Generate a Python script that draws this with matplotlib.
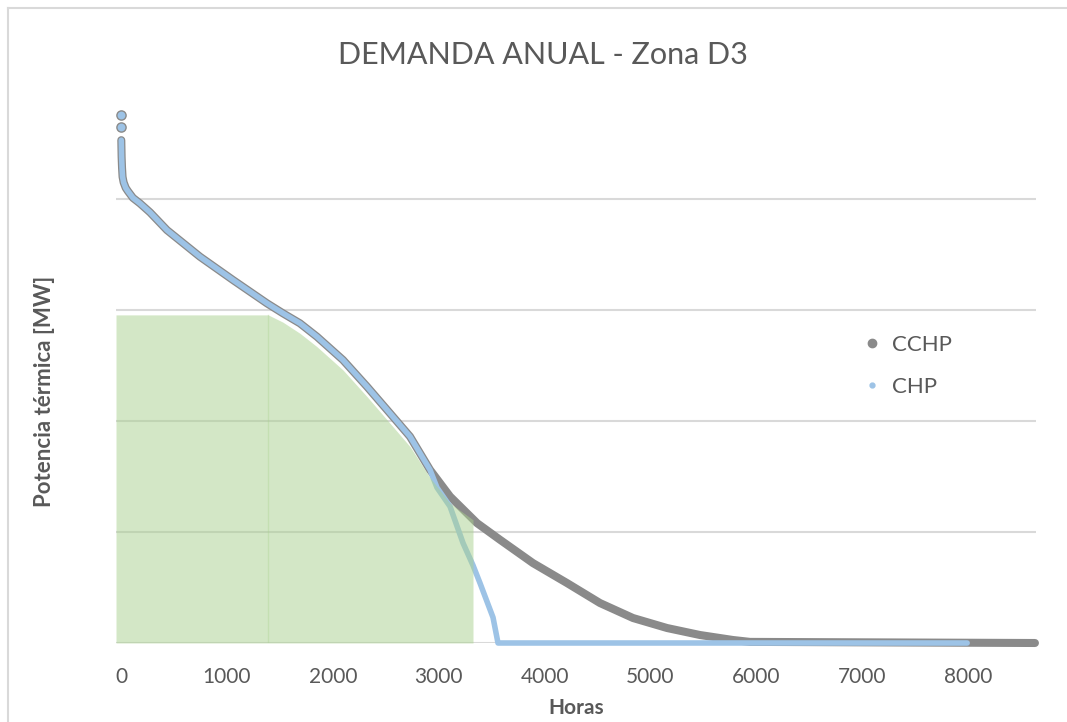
import matplotlib.pyplot as plt
from matplotlib.lines import Line2D

plt.rcParams['font.family'] = ['Lato', 'DejaVu Sans']

# curva monótona de demanda, horas vs potencia (MW)
pico_h = [0, 1]
pico_mw = [23.8, 23.25]

cchp_h = [3, 6, 10, 15, 25, 45, 66, 113, 180, 274, 434, 746, 1058, 1379, 1530, 1690,
          1850, 2096, 2323, 2540, 2729, 2918, 3107, 3362, 3579, 3890, 4212, 4523,
          4835, 5156, 5467, 5779, 5940, 8630]
cchp_mw = [22.65, 21.9, 21.4, 21.0, 20.75, 20.5, 20.35, 20.05, 19.8, 19.4, 18.6, 17.4,
           16.35, 15.3, 14.85, 14.4, 13.8, 12.75, 11.55, 10.35, 9.3, 7.8, 6.6, 5.4,
           4.65, 3.6, 2.7, 1.8, 1.125, 0.675, 0.36, 0.135, 0.05, 0.0]

chp_h = [3, 6, 10, 15, 25, 45, 66, 113, 180, 274, 434, 746, 1058, 1379, 1530, 1690,
         1850, 2096, 2323, 2540, 2729, 2918, 2984, 3107, 3230, 3324, 3390, 3513, 3560,
         7990]
chp_mw = [22.65, 21.9, 21.4, 21.0, 20.75, 20.5, 20.35, 20.05, 19.8, 19.4, 18.6, 17.4,
          16.35, 15.3, 14.85, 14.4, 13.8, 12.75, 11.55, 10.35, 9.3, 7.8, 7.0, 6.15,
          4.5, 3.5, 2.7, 1.15, 0.0, 0.0]

# potencia cubierta (área verde)
cub_h = [-47, 1390, 1530, 1690, 1850, 2096, 2323, 2540, 2729, 2918, 3107, 3324, 3324]
cub_mw = [14.78, 14.78, 14.45, 13.95, 13.35, 12.3, 11.1, 9.9, 8.85, 7.45, 6.3, 5.55, 0.0]

xticks = [0, 1000, 2000, 3000, 4000, 5000, 6000, 7000, 8000]

gris = '#8a8a8a'
azul = '#9dc3e6'
verde = '#a9d18e'
texto = '#595959'

fig = plt.figure(figsize=(10.67, 7.22), dpi=100)
ax = fig.add_axes([116/1067, 79/722, 920/1067, 555/722])

ax.plot(cchp_h, cchp_mw, color=gris, lw=5.8, solid_capstyle='round',
        solid_joinstyle='round', clip_on=False, zorder=3)
ax.scatter(pico_h, pico_mw, s=44, color=azul, edgecolor=gris, linewidth=1,
           clip_on=False, zorder=4)
ax.plot(chp_h, chp_mw, color=azul, lw=4.0, solid_capstyle='round',
        solid_joinstyle='round', clip_on=False, zorder=4)

ax.fill_between(cub_h, cub_mw, 0, color=verde, alpha=0.5, linewidth=0, zorder=5)
ax.plot([cub_h[1], cub_h[1]], [0, cub_mw[1]], color=verde, alpha=0.35, lw=1, zorder=5)

ax.set_xlim(-47, 8640)
ax.set_ylim(0, 25)
ax.set_yticks([0, 5, 10, 15, 20])
ax.set_yticklabels([])
ax.set_xticks(xticks)
ax.set_xticklabels([str(v) for v in xticks])
ax.tick_params(axis='both', length=0)
ax.tick_params(axis='x', labelsize=15, labelcolor=texto, pad=17)
ax.grid(axis='y', color='#d9d9d9', lw=1.5, zorder=0)
ax.set_axisbelow(True)
for s in ax.spines.values():
    s.set_visible(False)

ax.set_xlabel('Horas', fontsize=15, fontweight='bold', color=texto, labelpad=8)
fig.text(45/1067, 1 - 391/722, 'Potencia térmica [MW]', rotation=90, fontsize=16,
         fontweight='bold', color=texto, ha='center', va='center')
fig.text(543/1067, 1 - 55/722, 'DEMANDA ANUAL - Zona D3', fontsize=22,
         color=texto, ha='center', va='center')

handles = [Line2D([], [], ls='none', marker='o', ms=6, color=gris),
           Line2D([], [], ls='none', marker='o', ms=3.5, color=azul)]
ax.legend(handles, ['CCHP', 'CHP'], loc='center left', frameon=False,
          bbox_to_anchor=(845/1067, 1 - 366/722), bbox_transform=fig.transFigure,
          fontsize=16, labelcolor=texto, handlelength=0.6, handletextpad=0.6,
          labelspacing=0.98)

# borde del gráfico
fig.add_artist(Line2D([8/1067, 8/1067], [0, 1 - 8/722], color='#d9d9d9', lw=1.5))
fig.add_artist(Line2D([8/1067, 1], [1 - 8/722, 1 - 8/722], color='#d9d9d9', lw=1.5))

fig.savefig('out.png', dpi=100)
